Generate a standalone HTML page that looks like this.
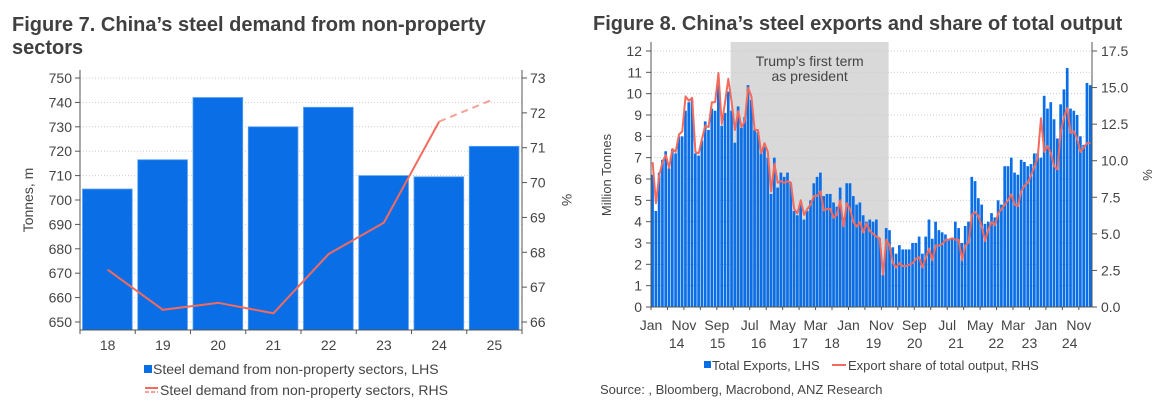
<!DOCTYPE html>
<html><head><meta charset="utf-8">
<style>
body{margin:0;background:#fff;width:1169px;height:405px;overflow:hidden;font-family:"Liberation Sans",Arial,sans-serif;}
svg{position:absolute;left:0;top:0}
</style></head>
<body>
<svg id="s" width="1169" height="405" font-family="Liberation Sans, Arial, sans-serif">
<text x="12" y="31" font-size="20" font-weight="bold" fill="#404040">Figure 7.  China’s steel demand from non-property</text>
<text x="12" y="54" font-size="20" font-weight="bold" fill="#404040">sectors</text>
<text x="593" y="30" font-size="20" font-weight="bold" fill="#404040">Figure 8.  China’s steel exports and share of total output</text>
<g id="c1"></g><g id="c2"></g>
</svg>
<script>
// ---- Chart 1 data ----
const years1 = ["18","19","20","21","22","23","24","25"];
const demandLHS = [704.5,716.5,742,730,738,710,709.5,722];
const shareRHS = [67.5,66.35,66.55,66.25,67.95,68.85,71.75,72.4];
const leftTicks1 = [650,660,670,680,690,700,710,720,730,740,750];
const rightTicks1 = [66,67,68,69,70,71,72,73];

// ---- Chart 2 data ----
const exportsMt = [6.2,4.5,6.3,6.9,7.3,6.5,7.4,7.2,8.0,8.0,9.2,9.6,9.7,7.2,7.1,7.8,8.7,8.3,9.3,9.2,10.4,8.5,9.1,10.1,9.2,7.7,9.4,8.4,8.9,10.4,9.7,8.3,8.2,7.2,7.5,7.0,5.3,7.0,5.6,6.3,6.1,6.3,5.8,4.5,4.3,4.8,4.1,4.5,5.0,5.8,6.1,6.3,5.2,5.3,5.3,4.9,4.7,5.6,4.2,5.8,5.8,5.2,4.8,4.9,4.3,4.0,4.1,4.0,4.1,3.2,1.5,3.7,3.6,2.8,2.5,2.9,2.7,2.7,2.7,3.0,3.0,3.3,2.5,3.3,4.1,3.2,4.0,3.6,3.5,3.4,3.2,3.2,4.0,3.7,3.0,3.8,4.0,6.1,5.9,5.1,4.8,3.9,4.0,4.4,4.2,5.0,4.8,6.6,6.6,7.0,6.3,6.2,6.9,6.8,6.6,6.7,7.2,7.2,7.0,9.9,9.3,9.6,8.8,7.9,9.5,10.2,11.2,9.3,9.2,9.0,8.0,7.6,10.5,10.4];
const sharePct = [9.9,7.1,9.0,9.9,10.4,9.5,10.8,10.6,11.8,12.0,14.4,14.1,14.3,10.6,10.5,11.5,12.4,12.3,14.0,14.0,16.0,12.5,14.0,15.6,14.0,12.1,13.4,12.3,12.7,15.0,14.4,12.1,12.1,10.5,11.2,10.6,7.9,9.8,8.5,8.6,8.5,8.6,8.5,6.7,6.4,7.3,6.3,6.7,7.0,7.6,7.6,7.9,6.6,6.7,6.7,6.1,6.3,7.3,5.5,7.1,6.7,5.8,5.5,5.8,5.1,5.7,5.2,5.0,4.8,4.7,2.2,4.6,4.2,3.0,2.7,3.0,2.8,2.8,2.9,3.0,3.3,3.4,2.7,3.4,4.0,3.2,4.2,4.2,4.3,4.6,4.6,4.7,4.6,4.6,3.2,4.2,4.4,6.3,6.5,6.2,5.5,4.5,5.3,5.8,5.6,6.4,6.7,7.0,7.3,7.7,7.0,6.9,7.9,8.3,8.5,9.0,9.6,10.2,12.9,10.6,11.0,10.5,9.6,9.4,12.0,13.0,13.6,11.9,12.0,11.5,10.6,10.9,11.2,11.2];
const leftTicks2 = [0,1,2,3,4,5,6,7,8,9,10,11,12];
const rightTicks2 = ["0.0","2.5","5.0","7.5","10.0","12.5","15.0","17.5"];
const monthLabels = ["Jan","Nov","Sep","Jul","May","Mar","Jan","Nov","Sep","Jul","May","Mar","Jan","Nov"];
const yearLabels = ["14","15","16","17","18","19","20","21","22","23","24"];
const yearLabelIdx = [7.8,20.2,32.7,45.3,55,67.6,80.1,92.7,104.9,115,127.2];
const shadeStart = 24.2, shadeEnd = 72.2;

const NS="http://www.w3.org/2000/svg";
function mk(parent,tag,attrs,text){const e=document.createElementNS(NS,tag);for(const k in attrs)e.setAttribute(k,attrs[k]);if(text!==undefined)e.textContent=text;parent.appendChild(e);return e;}
const GRID="#c8ccd4", AX="#555", TXT="#444", BLUE="#0a6fe6", RED="#f26b5e";

// ===== Chart 1 =====
(function(){
const g=document.getElementById('c1');
const L=80,R=522,T=70,B=330;
const yL=v=>322-(v-650)*(244/100);
const yR=v=>322-(v-66)*(244/7);
const cw=(R-L)/years1.length;
leftTicks1.forEach(v=>{
  const gl=mk(g,'line',{x1:L,x2:R,y1:yL(v),y2:yL(v),stroke:GRID,'stroke-dasharray':'1,2','stroke-width':1});
  
  
  mk(g,'line',{x1:L-5,x2:L,y1:yL(v),y2:yL(v),stroke:AX});
  const t=mk(g,'text',{x:L-8,y:yL(v)+5,'text-anchor':'end','font-size':14,fill:TXT},v);
  
  
});
rightTicks1.forEach(v=>{
  mk(g,'line',{x1:R,x2:R+5,y1:yR(v),y2:yR(v),stroke:AX});
  const t=mk(g,'text',{x:R+8,y:yR(v)+5,'font-size':14,fill:TXT},v);
  
  
});
demandLHS.forEach((v,i)=>{
  const x=L+i*cw+cw*0.045;
  const r=mk(g,'rect',{x:x,y:yL(v),width:cw*0.9,height:B-yL(v),fill:BLUE,stroke:'#5aa0f0','stroke-width':0.8});
  
  
  const t=mk(g,'text',{x:L+(i+0.5)*cw,y:350,'text-anchor':'middle','font-size':14,fill:TXT},years1[i]);
  
  
  mk(g,'line',{x1:L+i*cw,x2:L+i*cw,y1:B,y2:B+4,stroke:AX});
});
mk(g,'line',{x1:R,x2:R,y1:B,y2:B+4,stroke:AX});
const solid=shareRHS.slice(0,7).map((v,i)=>(L+(i+0.5)*cw)+','+yR(v)).join(' ');
const l1=mk(g,'polyline',{points:solid,fill:'none',stroke:RED,'stroke-width':2});


const dash=shareRHS.slice(6).map((v,i)=>(L+(i+6.5)*cw)+','+yR(v)).join(' ');
const l2=mk(g,'polyline',{points:dash,fill:'none',stroke:'#f6a098','stroke-width':2,'stroke-dasharray':'7,5'});


mk(g,'line',{x1:L,x2:L,y1:T,y2:B,stroke:AX});
mk(g,'line',{x1:R,x2:R,y1:T,y2:B,stroke:AX});
mk(g,'line',{x1:L,x2:R,y1:B,y2:B,stroke:AX});
const yt=mk(g,'text',{x:0,y:0,transform:'translate(33,200) rotate(-90)','text-anchor':'middle','font-size':14,fill:TXT},'Tonnes, m');


const yt2=mk(g,'text',{x:0,y:0,transform:'translate(562,200) rotate(90)','text-anchor':'middle','font-size':14,fill:TXT},'%');


const lg=mk(g,'g',{});


mk(lg,'rect',{x:144,y:365,width:8,height:8,fill:BLUE});
mk(lg,'text',{x:153,y:374,'font-size':14,fill:TXT},'Steel demand from non-property sectors, LHS');
mk(lg,'line',{x1:145,x2:158,y1:388,y2:388,stroke:RED,'stroke-width':2});
mk(lg,'line',{x1:145,x2:158,y1:392,y2:392,stroke:'#f6a098','stroke-width':2,'stroke-dasharray':'4,2'});
mk(lg,'text',{x:160,y:395,'font-size':14,fill:TXT},'Steel demand from non-property sectors, RHS');
})();

// ===== Chart 2 =====
(function(){
const g=document.getElementById('c2');
const L=651,R=1092,T=42,B=307;
const n=exportsMt.length;
const step=(R-L)/n;
const xI=i=>L+i*step;
const yL=v=>B-v*(256/12);
const yR=v=>B-v*(256/17.5);
const sh=mk(g,'rect',{x:xI(shadeStart),y:T,width:xI(shadeEnd)-xI(shadeStart),height:B-T,fill:'#d9d9d9'});


const st=mk(g,'text',{x:(xI(shadeStart)+xI(shadeEnd))/2,y:66,'text-anchor':'middle','font-size':14,fill:'#444'},'Trump’s first term');


mk(g,'text',{x:(xI(shadeStart)+xI(shadeEnd))/2,y:81,'text-anchor':'middle','font-size':14,fill:'#444'},'as president');
leftTicks2.forEach(v=>{
  const gl=mk(g,'line',{x1:L,x2:R,y1:yL(v),y2:yL(v),stroke:GRID,'stroke-dasharray':'1,2'});
  
  
  mk(g,'line',{x1:L-5,x2:L,y1:yL(v),y2:yL(v),stroke:AX});
  const t=mk(g,'text',{x:L-9,y:yL(v)+5,'text-anchor':'end','font-size':14,fill:TXT},v);
  
  
});
rightTicks2.forEach(v=>{
  const y=yR(parseFloat(v));
  mk(g,'line',{x1:R,x2:R+5,y1:y,y2:y,stroke:AX});
  const t=mk(g,'text',{x:R+9,y:y+5,'font-size':14,fill:TXT},v);
  
  
});
exportsMt.forEach((v,i)=>{
  const r=mk(g,'rect',{x:xI(i)+0.2,y:yL(v),width:step-0.6,height:B-yL(v),fill:BLUE});
  
  
});
const pts=sharePct.map((v,i)=>(xI(i)+step/2)+','+yR(v)).join(' ');
const ln=mk(g,'polyline',{points:pts,fill:'none',stroke:RED,'stroke-width':2,'stroke-linejoin':'round'});


mk(g,'line',{x1:L,x2:L,y1:T,y2:B,stroke:AX});
mk(g,'line',{x1:R,x2:R,y1:T,y2:B,stroke:AX});
mk(g,'line',{x1:L,x2:R,y1:B,y2:B,stroke:AX});
for(let i=0;i<=n;i+=5){mk(g,'line',{x1:xI(i),x2:xI(i),y1:B,y2:B+3,stroke:AX});}
monthLabels.forEach((m,k)=>{
  const t=mk(g,'text',{x:xI(k*10),y:330,'text-anchor':'middle','font-size':14,fill:TXT},m);
  
  
});
yearLabels.forEach((y,k)=>{
  const t=mk(g,'text',{x:xI(yearLabelIdx[k]),y:348,'text-anchor':'middle','font-size':14,fill:TXT},y);
  
  
});
const yt=mk(g,'text',{x:0,y:0,transform:'translate(611,175) rotate(-90)','text-anchor':'middle','font-size':13,fill:TXT},'Million Tonnes');


const yt2=mk(g,'text',{x:0,y:0,transform:'translate(1143,175) rotate(90)','text-anchor':'middle','font-size':13,fill:TXT},'%');


const lg=mk(g,'g',{});


mk(lg,'rect',{x:704,y:361,width:7,height:7,fill:BLUE});
mk(lg,'text',{x:712,y:370,'font-size':13,fill:TXT},'Total Exports, LHS');
mk(lg,'line',{x1:832,x2:846,y1:365,y2:365,stroke:RED,'stroke-width':2});
mk(lg,'text',{x:848,y:370,'font-size':13,fill:TXT},'Export share of total output, RHS');
const src=mk(g,'text',{x:600,y:394,'font-size':13,fill:TXT},'Source: , Bloomberg, Macrobond, ANZ Research');


})();
</script>
</body></html>
